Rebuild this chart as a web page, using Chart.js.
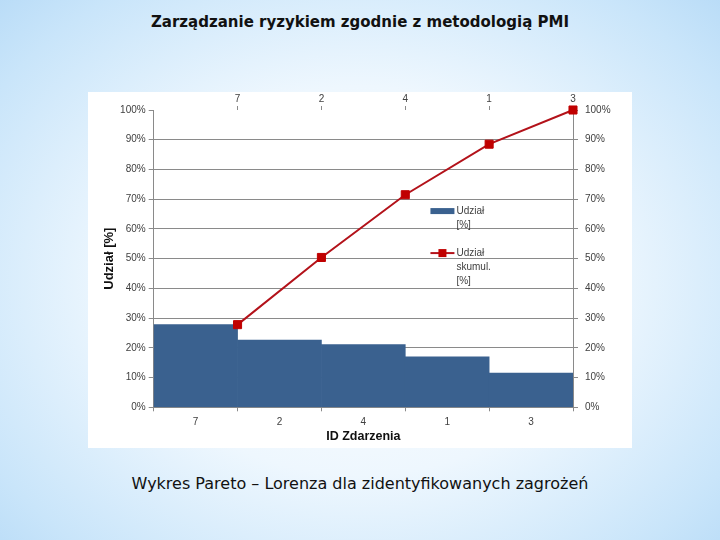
<!DOCTYPE html>
<html>
<head>
<meta charset="utf-8">
<script src="https://cdn.jsdelivr.net/npm/chart.js@4.4.0/dist/chart.umd.min.js"></script>
<style>
  html, body { margin: 0; padding: 0; }
  body {
    width: 720px; height: 540px; overflow: hidden; position: relative;
    background: radial-gradient(ellipse 75% 80% at 50% 52%, #ffffff 0%, #eef7fe 45%, #c9e5fa 80%, #b2d8f6 100%);
    font-family: "DejaVu Sans", sans-serif;
  }
  #title {
    position: absolute; left: 0; width: 720px; top: 13px; text-align: center;
    font-weight: bold; font-size: 15px; color: #111;
  }
  #caption {
    position: absolute; left: 0; width: 720px; top: 474px; text-align: center;
    font-size: 16px; color: #111;
  }
  #box {
    position: absolute; left: 88px; top: 92px; width: 544px; height: 356px; background: #fff;
  }
</style>
</head>
<body>
<div id="title">Zarządzanie ryzykiem zgodnie z metodologią PMI</div>
<div id="box"><canvas id="pareto"></canvas></div>
<div id="caption">Wykres Pareto – Lorenza dla zidentyfikowanych zagrożeń</div>
<script>
var categories = ['7', '2', '4', '1', '3'];
var shares = [27.8, 22.6, 21.1, 17.0, 11.5];
var cumulative = [27.8, 50.4, 71.5, 88.5, 100];
var percentTicks = [0, 10, 20, 30, 40, 50, 60, 70, 80, 90, 100];

var grey = '#8a8a8a';
var tickFont = { family: 'Liberation Sans', size: 10 };
var tickColor = '#404040';

// legend with one word per line, drawn inside the plot
var wrappedLegend = {
    id: 'wrappedLegend',
    afterDraw: function (chart) {
        var ctx = chart.ctx;
        var area = chart.chartArea;
        var x = area.left + 0.66 * (area.right - area.left);
        var y = area.top + 0.34 * (area.bottom - area.top);
        ctx.save();
        ctx.font = '10px "Liberation Sans"';
        ctx.textBaseline = 'middle';
        chart.data.datasets.forEach(function (ds, i) {
            var yy = y + i * 42;
            if (ds.type === 'line') {
                ctx.strokeStyle = ds.borderColor;
                ctx.lineWidth = 2;
                ctx.beginPath();
                ctx.moveTo(x, yy);
                ctx.lineTo(x + 24, yy);
                ctx.stroke();
                ctx.fillStyle = ds.pointBackgroundColor;
                ctx.fillRect(x + 8, yy - 4, 8, 8);
            } else {
                ctx.fillStyle = ds.backgroundColor;
                ctx.fillRect(x, yy - 3, 24, 6);
            }
            ctx.fillStyle = tickColor;
            ds.label.split(' ').forEach(function (word, j) {
                ctx.fillText(word, x + 26, yy + j * 14);
            });
        });
        ctx.restore();
    }
};

var ctx = document.getElementById('pareto').getContext('2d');

new Chart(ctx, {
    type: 'bar',
    data: {
        labels: categories,
        datasets: [{
            type: 'bar',
            label: 'Udział [%]',
            data: shares,
            backgroundColor: '#3a618f',
            barPercentage: 1,
            categoryPercentage: 1,
            grouped: false,
            xAxisID: 'x',
            yAxisID: 'y',
            order: 2
        }, {
            type: 'line',
            label: 'Udział skumul. [%]',
            data: cumulative.map(function (v, i) { return { x: i + 1, y: v }; }),
            borderColor: '#b3121a',
            borderWidth: 2,
            pointStyle: 'rect',
            pointRadius: 5.7,
            pointHoverRadius: 5.7,
            pointBackgroundColor: '#c00000',
            pointBorderColor: '#c00000',
            pointBorderWidth: 1,
            xAxisID: 'x2',
            yAxisID: 'y',
            clip: false,
            order: 1
        }]
    },
    options: {
        responsive: true,
        maintainAspectRatio: false,
        animation: false,
        layout: { padding: 0 },
        plugins: {
            legend: { display: false },
            tooltip: { enabled: false }
        },
        scales: {
            x: {
                type: 'category',
                position: 'bottom',
                offset: true,
                grid: { offset: true, drawOnChartArea: false, tickLength: 4, color: grey },
                border: { display: true, color: grey },
                ticks: { font: tickFont, color: tickColor, padding: 5 },
                title: {
                    display: true, text: 'ID Zdarzenia', color: '#111',
                    font: { family: 'Liberation Sans', size: 12.5, weight: 'bold' },
                    padding: { top: 0, bottom: 4 }
                },
                afterFit: function (s) { s.height = 40.7; }
            },
            x2: {
                type: 'linear',
                position: 'top',
                min: 0,
                max: 5,
                offset: false,
                grid: { offset: false, drawOnChartArea: false, tickLength: 4, color: grey },
                border: { display: false },
                ticks: {
                    stepSize: 1, font: tickFont, color: tickColor, padding: 1,
                    callback: function (v) { return v >= 1 ? categories[v - 1] : ''; }
                },
                afterBuildTicks: function (s) {
                    s.ticks = s.ticks.filter(function (t) { return t.value >= 1; });
                },
                afterFit: function (s) { s.height = 18; }
            },
            y: {
                position: 'left',
                min: 0,
                max: 100,
                grid: {
                    tickLength: 5,
                    tickColor: grey,
                    color: function (c) {
                        var v = c.tick ? c.tick.value : 0;
                        return (v > 0 && v < 100) ? grey : 'rgba(0,0,0,0)';
                    }
                },
                border: { display: true, color: grey },
                afterBuildTicks: function (s) {
                    s.ticks = percentTicks.map(function (v) { return { value: v }; });
                },
                ticks: {
                    font: tickFont, color: tickColor, padding: 3,
                    callback: function (v) { return v + '%'; }
                },
                title: {
                    display: true, text: 'Udział [%]', color: '#111',
                    font: { family: 'Liberation Sans', size: 13, weight: 'bold' },
                    padding: { top: 14, bottom: 0 }
                },
                afterFit: function (s) { s.width = 65.7; }
            },
            y2: {
                position: 'right',
                min: 0,
                max: 100,
                grid: { drawOnChartArea: false, tickLength: 5, color: grey },
                border: { display: true, color: grey },
                afterBuildTicks: function (s) {
                    s.ticks = percentTicks.map(function (v) { return { value: v }; });
                },
                ticks: {
                    font: tickFont, color: tickColor, padding: 7,
                    callback: function (v) { return v + '%'; }
                },
                afterFit: function (s) { s.width = 59; }
            }
        }
    },
    plugins: [wrappedLegend]
});
</script>
</body>
</html>
